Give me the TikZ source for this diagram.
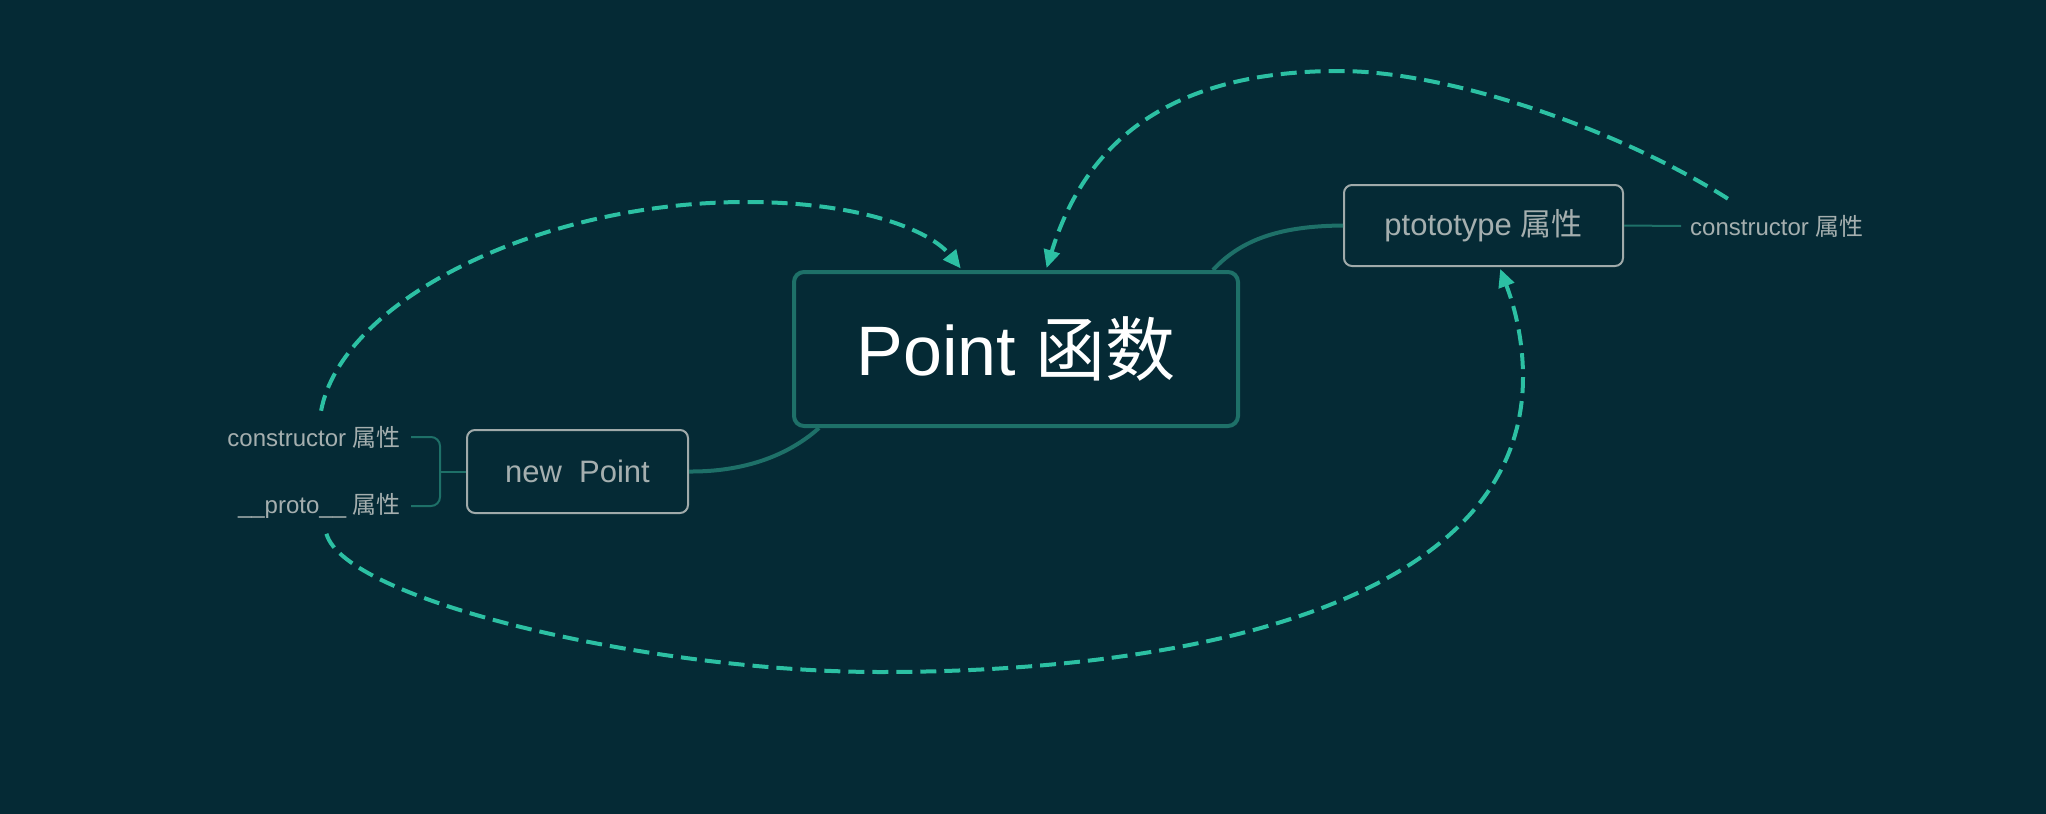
\documentclass[tikz,border=0pt]{standalone}
\usepackage{fontspec}
\setmainfont{Liberation Sans}
\newfontfamily\cjk{Noto Sans CJK SC}
\usetikzlibrary{arrows.meta}
\definecolor{bgcol}{RGB}{5,42,53}
\definecolor{linkcol}{RGB}{30,112,104}
\definecolor{dashcol}{RGB}{44,192,163}
\definecolor{boxcol}{RGB}{160,170,170}
\definecolor{txtcol}{RGB}{165,175,175}

\begin{document}
\begin{tikzpicture}[x=1pt,y=-1pt,
  mainbox/.style={draw=linkcol,line width=4pt,rounded corners=10pt,minimum width=444pt,minimum height=154pt,inner sep=0pt,text=white,font=\fontsize{70pt}{84pt}\selectfont},
  subbox/.style={draw=boxcol,line width=2pt,rounded corners=8pt,inner sep=0pt,text=txtcol,font=\fontsize{31pt}{37pt}\selectfont},
  attr/.style={inner sep=0pt,text=txtcol,font=\fontsize{24pt}{29pt}\selectfont},
  link/.style={draw=linkcol,line width=4pt},
  twig/.style={draw=linkcol,line width=2pt},
  ref/.style={draw=dashcol,line width=4pt,dash pattern=on 16pt off 8pt,-{Triangle[length=18pt,width=16pt]},shorten >=2pt}]
\fill[bgcol] (0,0) rectangle (2046,814);
\useasboundingbox (0,0) rectangle (2046,814);
\node[mainbox] (fn) at (1016,349) {Point {\cjk 函数}};
\node[subbox,minimum width=221pt,minimum height=83pt] (inst) at (577.5,471.5) {new\ \ Point};
\node[subbox,minimum width=279pt,minimum height=81pt] (ptot) at (1483.5,225.5) {ptototype {\cjk 属性}};
\node[attr,anchor=east] (lblc) at (401,437) {constructor {\cjk 属性}};
\node[attr,anchor=east] (lblp) at (401,506) {\_\_proto\_\_ {\cjk 属性}};
\node[attr,anchor=west] (lblr) at (1690,226) {constructor {\cjk 属性}};
\coordinate (brk) at ([xshift=-26pt]inst.west);
\draw[twig] (brk) -- (inst.west);
\draw[twig,rounded corners=9pt] ([xshift=10pt]lblc.east) -| (brk) |- ([xshift=10pt]lblp.east);
\draw[twig] (ptot.east) -- ([xshift=-9pt]lblr.west);
\draw[link] (inst.east) .. controls (760,472) and (800,445) .. ([xshift=-197pt]fn.south);
\draw[link] ([xshift=197pt]fn.north) .. controls (1245,235) and (1290,226) .. (ptot.west);
\draw[ref] ([xshift=7pt,yshift=15pt]lblc.north) .. controls (342,300) and (540,202) .. (746,202) .. controls (860,202) and (930,230) .. ([xshift=-54pt]fn.north);
\draw[ref] ([xshift=-49pt,yshift=16pt]lblr.north) .. controls (1620,130) and (1450,71) .. (1339,71) .. controls (1150,71) and (1080,160) .. ([xshift=30pt]fn.north);
\draw[ref] ([xshift=7pt,yshift=-15pt]lblp.south) .. controls (345,600) and (650,672) .. (880,672) .. controls (1200,672) and (1523,600) .. (1523,377) .. controls (1523,330) and (1510,295) .. ([xshift=16pt]ptot.south);
\end{tikzpicture}
\end{document}
